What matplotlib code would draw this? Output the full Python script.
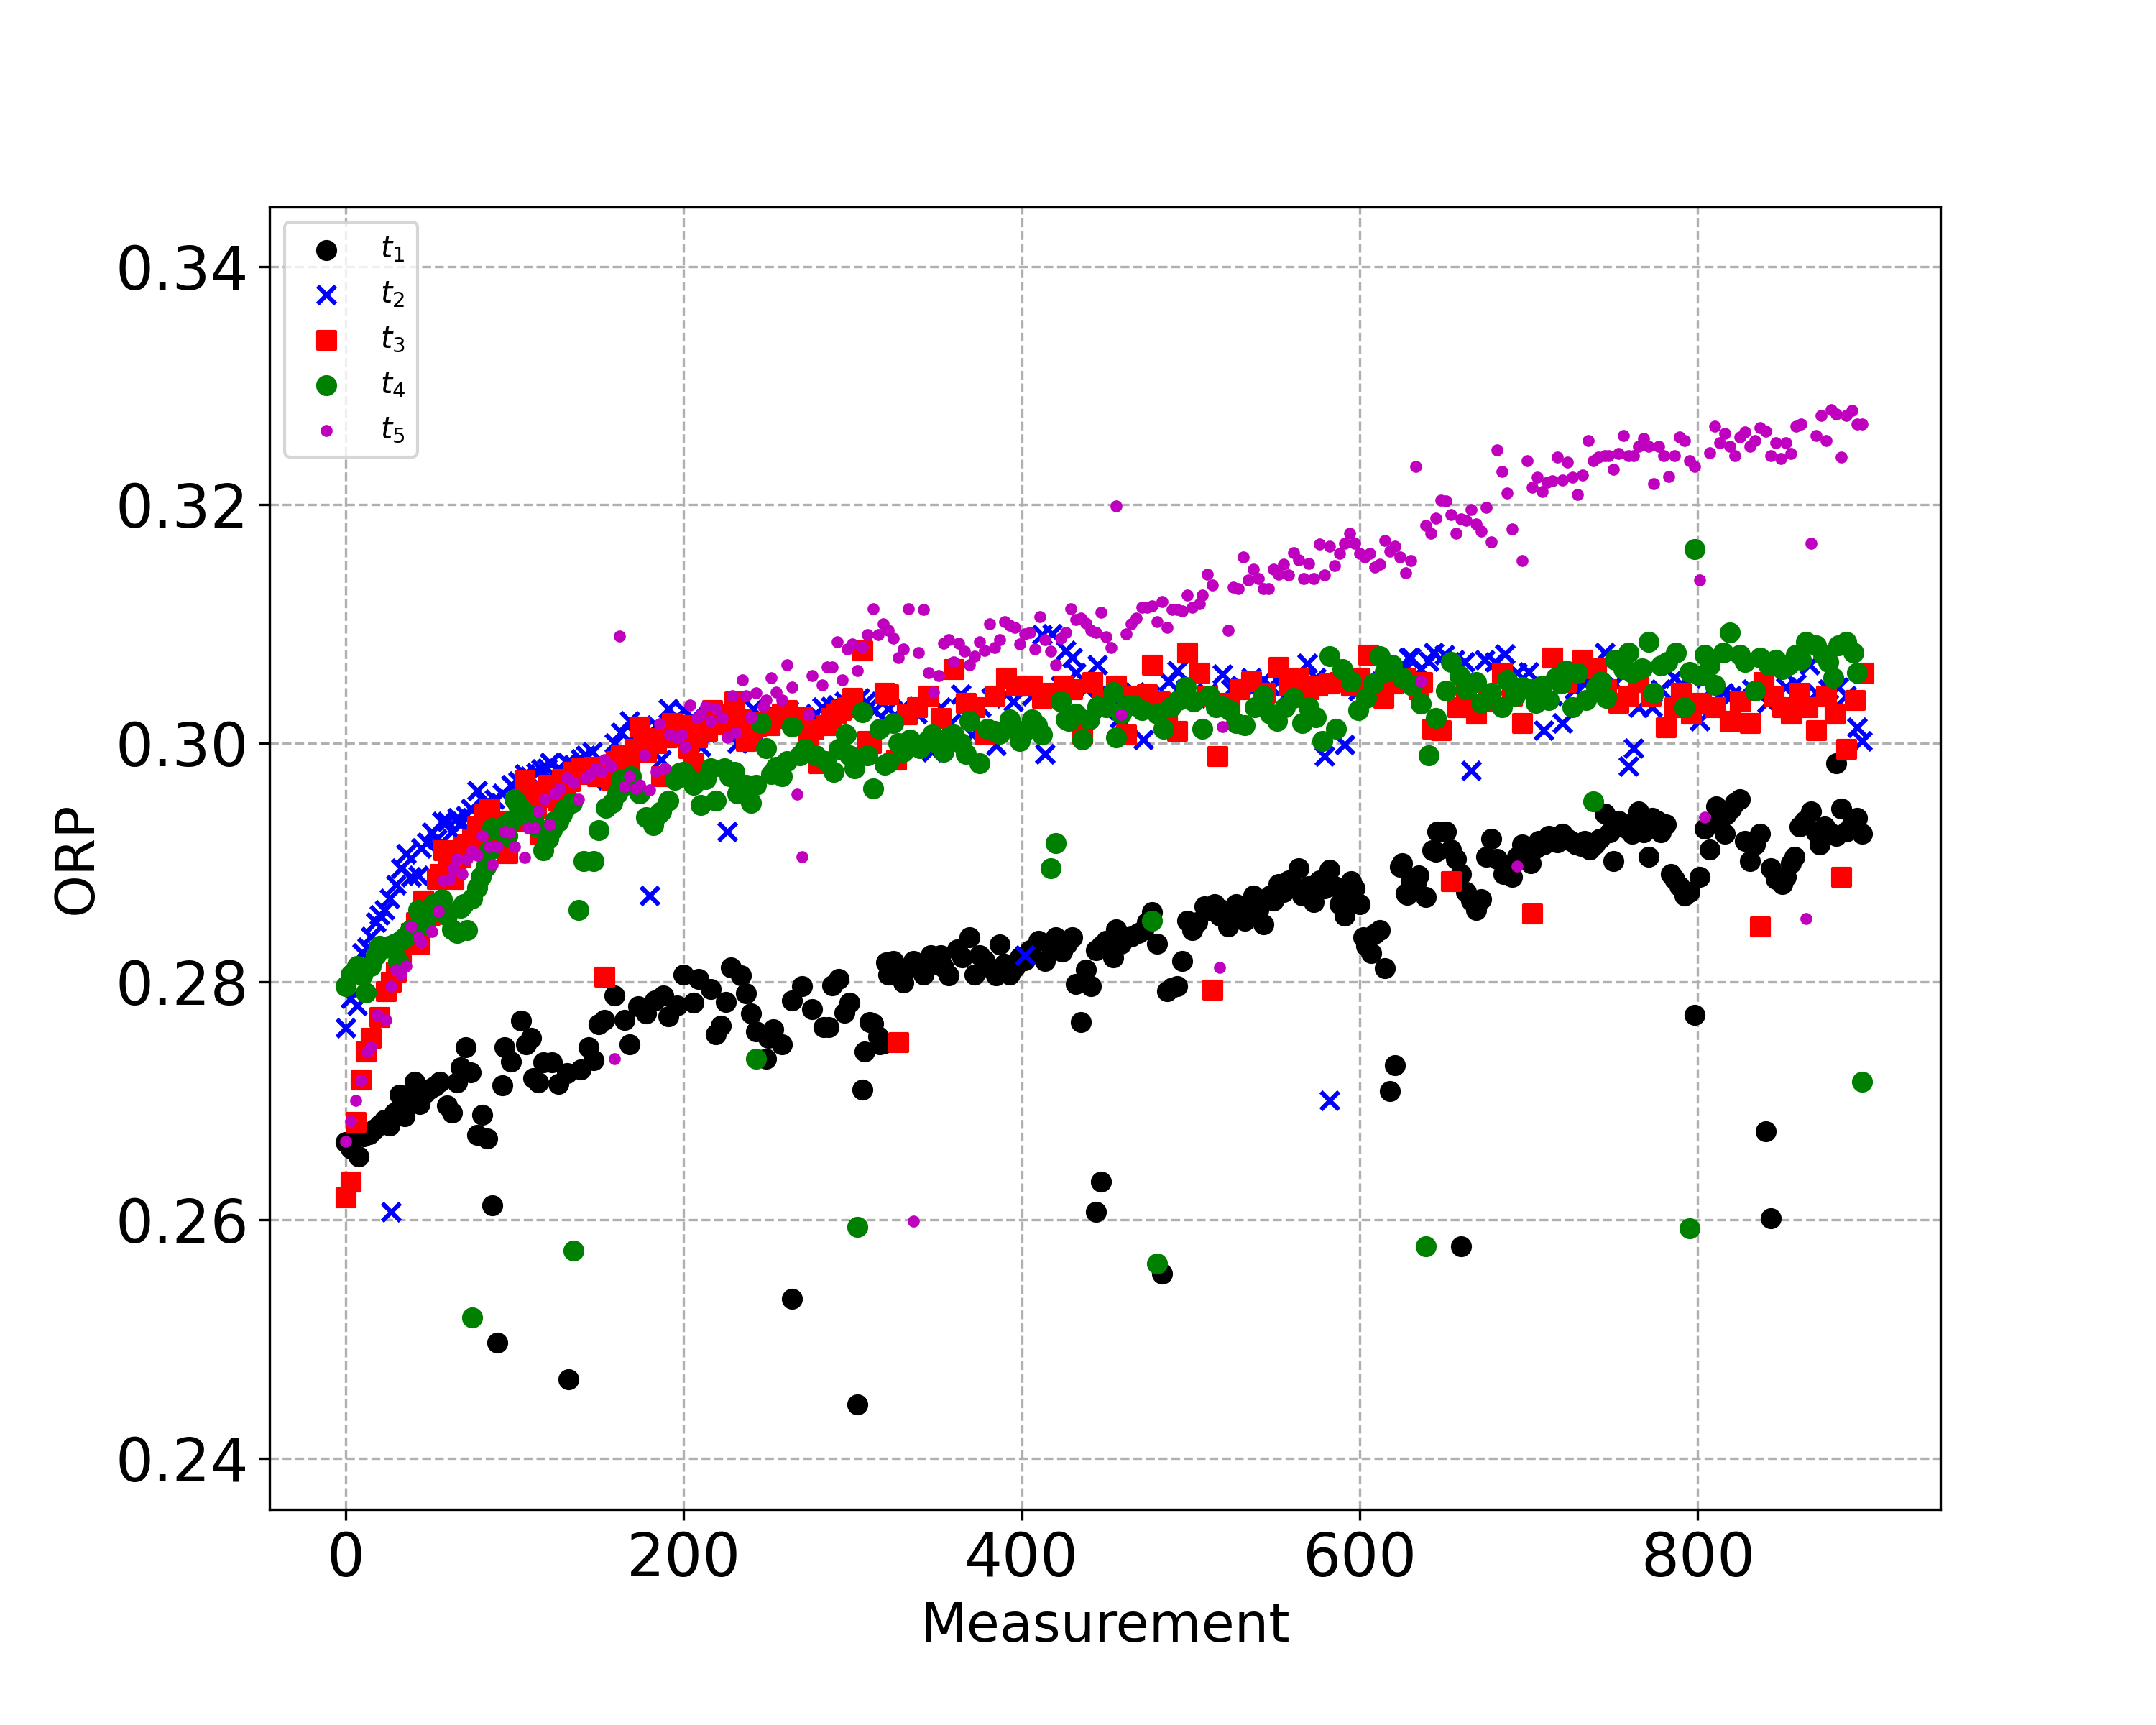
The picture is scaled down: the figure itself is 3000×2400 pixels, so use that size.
import numpy as np
import matplotlib
matplotlib.use("Agg")
import matplotlib.pyplot as plt

t1_points = [
    (0, 0.2665), (3, 0.2660), (5, 0.2668), (8, 0.2653), (11, 0.2670), (14, 0.2672), (17, 0.2676),
    (20, 0.2680), (23, 0.2684), (26, 0.2679), (29, 0.2690), (32, 0.2705), (35, 0.2687), (38, 0.2700),
    (41, 0.2716), (44, 0.2697), (47, 0.2706), (50, 0.2710), (53, 0.2712), (56, 0.2716), (60, 0.2696),
    (63, 0.2690), (66, 0.2715), (68, 0.2728), (71, 0.2745), (74, 0.2724), (78, 0.2671), (81, 0.2688),
    (84, 0.2668), (93, 0.2713), (94, 0.2745), (98, 0.2733), (104, 0.2767), (107, 0.2747), (110, 0.2753),
    (111, 0.2719), (114, 0.2715), (117, 0.2732), (122, 0.2732), (126, 0.2714), (131, 0.2723),
    (139, 0.2726), (144, 0.2745), (147, 0.2734), (150, 0.2764), (153, 0.2768), (159, 0.2788),
    (165, 0.2768), (168, 0.2747), (173, 0.2779), (178, 0.2773), (183, 0.2784), (188, 0.2788),
    (191, 0.2771), (196, 0.2780), (200, 0.2806), (206, 0.2782), (209, 0.2802), (216, 0.2794),
    (219, 0.2756), (222, 0.2763), (225, 0.2783), (228, 0.2812), (234, 0.2805), (237, 0.2790),
    (240, 0.2773), (243, 0.2758), (249, 0.2735), (250, 0.2753), (253, 0.2760), (258, 0.2747),
    (264, 0.2784), (270, 0.2796), (276, 0.2777), (283, 0.2762), (286, 0.2762), (288, 0.2797),
    (292, 0.2802), (295, 0.2774), (298, 0.2782), (306, 0.2709), (307, 0.2741), (310, 0.2766),
    (312, 0.2765), (315, 0.2754), (316, 0.2747), (318, 0.2748), (320, 0.2816), (321, 0.2806),
    (324, 0.2817), (327, 0.2810), (330, 0.2799), (333, 0.2812), (336, 0.2817), (339, 0.2814),
    (342, 0.2806), (346, 0.2822), (348, 0.2815), (352, 0.2822), (354, 0.2812), (357, 0.2805),
    (362, 0.2827), (365, 0.2820), (369, 0.2837), (372, 0.2806), (375, 0.2822), (378, 0.2818),
    (381, 0.2812), (385, 0.2805), (387, 0.2831), (390, 0.2815), (393, 0.2806), (396, 0.2812),
    (399, 0.2820), (402, 0.2818), (405, 0.2826), (410, 0.2834), (414, 0.2817), (417, 0.2830),
    (420, 0.2837), (424, 0.2825), (427, 0.2832), (430, 0.2837), (432, 0.2798), (435, 0.2766),
    (438, 0.2810), (441, 0.2796), (444, 0.2826), (447, 0.2830), (450, 0.2834), (454, 0.2820),
    (456, 0.2844), (459, 0.2832), (462, 0.2837), (465, 0.2838), (469, 0.2841), (472, 0.2843),
    (474, 0.2850), (477, 0.2858), (480, 0.2832), (486, 0.2792), (489, 0.2795), (492, 0.2796),
    (495, 0.2817), (498, 0.2851), (501, 0.2843), (504, 0.2850), (508, 0.2863), (511, 0.2860),
    (514, 0.2865), (517, 0.2855), (519, 0.2860), (522, 0.2846), (525, 0.2858), (527, 0.2865),
    (529, 0.2860), (532, 0.2851), (535, 0.2862), (537, 0.2872), (540, 0.2860), (543, 0.2848),
    (547, 0.2872), (549, 0.2868), (552, 0.2882), (555, 0.2875), (558, 0.2885), (561, 0.2880),
    (564, 0.2895), (566, 0.2872), (570, 0.2880), (573, 0.2867), (576, 0.2885), (579, 0.2878),
    (582, 0.2894), (585, 0.2880), (588, 0.2865), (591, 0.2855), (593, 0.2870), (595, 0.2884),
    (597, 0.2878), (600, 0.2865), (602, 0.2837), (604, 0.2830), (607, 0.2824), (609, 0.2840),
    (612, 0.2843), (615, 0.2811), (624, 0.2896), (625, 0.2899), (627, 0.2874), (628, 0.2873),
    (630, 0.2885), (633, 0.2882), (635, 0.2889), (639, 0.2871), (643, 0.2910), (645, 0.2909),
    (646, 0.2926), (651, 0.2926), (654, 0.2911), (657, 0.2903), (660, 0.2890), (663, 0.2875),
    (666, 0.2868), (669, 0.2860), (672, 0.2869), (675, 0.2905), (678, 0.2920), (681, 0.2903),
    (685, 0.2890), (688, 0.2895), (690, 0.2888), (693, 0.2905), (696, 0.2915), (699, 0.2910),
    (701, 0.2899), (704, 0.2912), (706, 0.2918), (709, 0.2915), (712, 0.2922), (715, 0.2920),
    (717, 0.2917), (720, 0.2924), (723, 0.2920), (725, 0.2918), (728, 0.2915), (731, 0.2914),
    (733, 0.2918), (736, 0.2911), (739, 0.2915), (742, 0.2920), (745, 0.2941), (748, 0.2925),
    (750, 0.2901), (753, 0.2935), (755, 0.2930), (758, 0.2928), (761, 0.2924), (763, 0.2935),
    (765, 0.2943), (768, 0.2925), (771, 0.2905), (773, 0.2937), (776, 0.2935), (778, 0.2925),
    (781, 0.2932), (784, 0.2890), (786, 0.2886), (789, 0.2880), (792, 0.2872), (795, 0.2875),
    (801, 0.2888), (804, 0.2928), (807, 0.2911), (811, 0.2947), (813, 0.2935), (816, 0.2924),
    (817, 0.2940), (820, 0.2945), (822, 0.2950), (825, 0.2953), (828, 0.2918), (831, 0.2901),
    (834, 0.2915), (837, 0.2924), (843, 0.2895), (846, 0.2886), (850, 0.2882), (852, 0.2888),
    (855, 0.2899), (857, 0.2905), (860, 0.2930), (863, 0.2935), (867, 0.2943), (870, 0.2925),
    (872, 0.2915), (875, 0.2930), (878, 0.2925), (882, 0.2922), (882, 0.2983), (885, 0.2945),
    (888, 0.2926), (891, 0.2932), (894, 0.2937), (897, 0.2924),
    # stray readings
    (87, 0.2612), (90, 0.2497), (132, 0.2466), (264, 0.2534), (303, 0.2445), (444, 0.2607),
    (447, 0.2632), (483, 0.2555), (618, 0.2708), (621, 0.2730), (660, 0.2578), (798, 0.2772),
    (840, 0.2674), (843, 0.2601),
]

t2_points = [
    (0, 0.2761), (3, 0.2786), (7, 0.2780), (10, 0.2824), (13, 0.2829), (15, 0.2838), (18, 0.2850),
    (20, 0.2856), (23, 0.2860), (26, 0.2870), (30, 0.2881), (33, 0.2895), (36, 0.2907), (39, 0.2888),
    (43, 0.2889), (45, 0.2912), (48, 0.2917), (51, 0.2925), (54, 0.2920), (57, 0.2934), (60, 0.2934),
    (63, 0.2926), (66, 0.2937), (68, 0.2932), (71, 0.2939), (74, 0.2945), (78, 0.2960), (83, 0.2950),
    (88, 0.2953), (93, 0.2958), (98, 0.2965), (102, 0.2968), (106, 0.2974), (109, 0.2972),
    (113, 0.2975), (116, 0.2978), (119, 0.2979), (121, 0.2984), (126, 0.2979), (131, 0.2984),
    (135, 0.2982), (139, 0.2987), (142, 0.2990), (146, 0.2993), (150, 0.2979), (155, 0.2969),
    (159, 0.3000), (163, 0.3009), (168, 0.3019), (172, 0.3007), (176, 0.3012), (184, 0.3015),
    (187, 0.2986), (191, 0.3029), (195, 0.3020), (200, 0.3028), (205, 0.3022), (210, 0.2997),
    (213, 0.3009), (218, 0.3018), (222, 0.3025), (232, 0.3000), (236, 0.3020), (241, 0.3029),
    (243, 0.3007), (246, 0.3022), (250, 0.3024), (254, 0.3025), (258, 0.3019), (262, 0.3028),
    (266, 0.3020), (270, 0.3022), (274, 0.3014), (278, 0.3025), (282, 0.3030), (287, 0.3031),
    (291, 0.3032), (295, 0.3035), (299, 0.3030), (304, 0.3038), (308, 0.3035), (310, 0.3031),
    (313, 0.3028), (321, 0.3029), (330, 0.3031), (338, 0.3025), (347, 0.2993), (352, 0.3030),
    (358, 0.3017), (364, 0.3041), (371, 0.3007), (376, 0.3030), (382, 0.3038), (385, 0.2998),
    (391, 0.3041), (395, 0.3035), (399, 0.3014), (406, 0.3040), (412, 0.3091), (414, 0.2991),
    (418, 0.3092), (423, 0.3048), (426, 0.3078), (430, 0.3072), (432, 0.3059), (438, 0.3045),
    (445, 0.3066), (449, 0.3028), (453, 0.3040), (458, 0.3021), (462, 0.3035), (467, 0.3043),
    (472, 0.3003), (476, 0.3040), (480, 0.3031), (487, 0.3052), (492, 0.3061), (497, 0.3045),
    (503, 0.3038), (510, 0.3042), (519, 0.3058), (524, 0.3045), (530, 0.3048), (536, 0.3055),
    (541, 0.3050), (547, 0.3048), (552, 0.3052), (558, 0.3043), (563, 0.3048), (569, 0.3067),
    (574, 0.3055), (579, 0.2989), (586, 0.3050), (591, 0.2999), (599, 0.3044), (604, 0.3052),
    (610, 0.3048), (614, 0.3050), (619, 0.3055), (625, 0.3060), (629, 0.3072), (630, 0.3072),
    (636, 0.3062), (641, 0.3069), (644, 0.3076), (650, 0.3074), (656, 0.3070), (662, 0.3068),
    (666, 0.2977), (674, 0.3070), (680, 0.3068), (686, 0.3075), (693, 0.3059), (700, 0.3060),
    (709, 0.3011), (714, 0.3040), (720, 0.3017), (727, 0.3045), (733, 0.3050), (739, 0.3060),
    (745, 0.3076), (751, 0.3050), (759, 0.2981), (762, 0.2996), (765, 0.3030), (773, 0.3030),
    (778, 0.3045), (786, 0.3055), (790, 0.3050), (796, 0.3055), (801, 0.3019), (808, 0.3045),
    (815, 0.3042), (820, 0.3040), (825, 0.3040), (832, 0.3045), (841, 0.3034), (846, 0.3040),
    (852, 0.3047), (858, 0.3050), (866, 0.3066), (870, 0.3042), (877, 0.3045), (883, 0.3047),
    (888, 0.3040), (894, 0.3013), (897, 0.3002),
    # stray readings
    (27, 0.2607), (180, 0.2872), (226, 0.2926), (402, 0.2822), (582, 0.2700),
]

t3_points = [
    (0, 0.2619), (3, 0.2632), (6, 0.2682), (9, 0.2718), (12, 0.2741), (15, 0.2753), (20, 0.2770),
    (24, 0.2792), (27, 0.2800), (30, 0.2808), (33, 0.2822), (36, 0.2832), (39, 0.2841), (42, 0.2850),
    (44, 0.2832), (46, 0.2868), (50, 0.2856), (54, 0.2886), (56, 0.2890), (58, 0.2910), (61, 0.2895),
    (62, 0.2905), (64, 0.2886), (65, 0.2900), (68, 0.2905), (70, 0.2913), (72, 0.2915), (75, 0.2920),
    (78, 0.2930), (80, 0.2925), (82, 0.2940), (85, 0.2945), (87, 0.2927), (91, 0.2917), (93, 0.2935),
    (96, 0.2908), (100, 0.2935), (103, 0.2950), (106, 0.2969), (108, 0.2960), (111, 0.2952),
    (113, 0.2945), (115, 0.2924), (118, 0.2955), (120, 0.2965), (122, 0.2958), (126, 0.2952),
    (128, 0.2970), (130, 0.2965), (133, 0.2968), (135, 0.2976), (139, 0.2979), (142, 0.2975),
    (145, 0.2974), (147, 0.2980), (149, 0.2972), (152, 0.2978), (157, 0.2969), (160, 0.2985),
    (163, 0.2990), (166, 0.2985), (168, 0.2979), (171, 0.2995), (174, 0.3014), (176, 0.2998),
    (178, 0.2993), (182, 0.3004), (184, 0.3000), (187, 0.2972), (190, 0.3005), (193, 0.3017),
    (195, 0.3010), (198, 0.3007), (200, 0.3015), (203, 0.2996), (206, 0.2983), (208, 0.3005),
    (211, 0.3012), (214, 0.3010), (217, 0.3028), (219, 0.3020), (222, 0.3016), (226, 0.3025),
    (230, 0.3035), (234, 0.3020), (237, 0.3002), (240, 0.3010), (243, 0.3014), (248, 0.3018),
    (251, 0.3015), (254, 0.3021), (258, 0.3025), (261, 0.3028), (264, 0.3020), (267, 0.3017),
    (270, 0.3022), (274, 0.3007), (277, 0.3012), (280, 0.2983), (284, 0.3015), (287, 0.3021),
    (290, 0.3025), (293, 0.3028), (297, 0.3030), (300, 0.3038), (306, 0.3078), (309, 0.3002),
    (311, 0.3000), (319, 0.3042), (321, 0.3041), (326, 0.2986), (332, 0.3024), (338, 0.3030),
    (345, 0.3040), (352, 0.3021), (360, 0.3062), (367, 0.3034), (372, 0.3030), (378, 0.3008),
    (384, 0.3040), (391, 0.3055), (397, 0.3048), (406, 0.3048), (412, 0.3038), (418, 0.3042),
    (425, 0.3048), (430, 0.3045), (436, 0.3008), (442, 0.3051), (448, 0.3035), (456, 0.3048),
    (462, 0.3007), (468, 0.3040), (474, 0.3041), (477, 0.3066), (482, 0.3035), (486, 0.3017),
    (492, 0.3010), (498, 0.3076), (505, 0.3059), (510, 0.3040), (516, 0.2989), (523, 0.3034),
    (529, 0.3045), (536, 0.3052), (544, 0.3042), (552, 0.3064), (558, 0.3048), (564, 0.3055),
    (570, 0.3045), (575, 0.3048), (582, 0.3050), (588, 0.3051), (595, 0.3048), (600, 0.3055),
    (605, 0.3074), (614, 0.3038), (620, 0.3050), (627, 0.3055), (635, 0.3045), (637, 0.3051),
    (643, 0.3012), (648, 0.3011), (658, 0.3030), (663, 0.3040), (669, 0.3025), (676, 0.3035),
    (684, 0.3059), (690, 0.3040), (696, 0.3017), (706, 0.3045), (714, 0.3072), (722, 0.3051),
    (727, 0.3060), (732, 0.3070), (740, 0.3063), (746, 0.3045), (753, 0.3034), (759, 0.3040),
    (765, 0.3051), (772, 0.3040), (781, 0.3013), (786, 0.3030), (790, 0.3042), (796, 0.3025),
    (802, 0.3034), (810, 0.3030), (819, 0.3019), (825, 0.3035), (831, 0.3017), (839, 0.3051),
    (845, 0.3040), (850, 0.3030), (855, 0.3025), (860, 0.3042), (865, 0.3030), (870, 0.3011),
    (876, 0.3040), (881, 0.3025), (893, 0.3036), (898, 0.3059),
    # stray readings
    (153, 0.2804), (327, 0.2749), (513, 0.2793), (654, 0.2884), (702, 0.2857), (837, 0.2846),
    (885, 0.2888), (888, 0.2995),
]

t4_points = [
    (0, 0.2796), (3, 0.2806), (5, 0.2808), (7, 0.2813), (10, 0.2805), (12, 0.2791), (15, 0.2813),
    (18, 0.2822), (20, 0.2830), (23, 0.2828), (26, 0.2830), (29, 0.2832), (31, 0.2817), (33, 0.2835),
    (35, 0.2837), (37, 0.2840), (39, 0.2844), (43, 0.2860), (45, 0.2852), (47, 0.2848), (50, 0.2858),
    (52, 0.2865), (55, 0.2862), (57, 0.2869), (60, 0.2855), (63, 0.2844), (66, 0.2841), (68, 0.2862),
    (70, 0.2865), (72, 0.2843), (75, 0.2870), (78, 0.2879), (80, 0.2888), (83, 0.2896), (85, 0.2910),
    (87, 0.2929), (91, 0.2927), (93, 0.2930), (96, 0.2922), (98, 0.2935), (100, 0.2953),
    (102, 0.2948), (104, 0.2945), (106, 0.2940), (109, 0.2939), (111, 0.2935), (113, 0.2930),
    (117, 0.2910), (120, 0.2920), (122, 0.2927), (124, 0.2935), (126, 0.2934), (128, 0.2940),
    (130, 0.2945), (134, 0.2950), (138, 0.2860), (141, 0.2901), (147, 0.2901), (150, 0.2927),
    (154, 0.2946), (158, 0.2950), (161, 0.2958), (163, 0.2969), (166, 0.2965),
    (169, 0.2972), (174, 0.2958), (178, 0.2938), (182, 0.2931), (185, 0.2940), (187, 0.2943),
    (191, 0.2952), (195, 0.2969), (198, 0.2975), (200, 0.2976), (202, 0.2972), (206, 0.2965),
    (210, 0.2948), (213, 0.2970), (216, 0.2979), (219, 0.2952), (224, 0.2979), (227, 0.2972),
    (230, 0.2976), (232, 0.2958), (237, 0.2965), (240, 0.2950), (243, 0.2965), (246, 0.3017),
    (249, 0.2996), (252, 0.2974), (255, 0.2980), (258, 0.2972), (261, 0.2985), (264, 0.3014),
    (269, 0.2990), (272, 0.2995), (278, 0.2990), (284, 0.2985), (289, 0.2976), (292, 0.2995),
    (296, 0.3007), (298, 0.2990), (301, 0.2979), (306, 0.3026), (309, 0.2990), (312, 0.2962),
    (316, 0.3012), (319, 0.2982), (321, 0.2984), (324, 0.3017), (327, 0.3000), (330, 0.2993),
    (334, 0.3003), (340, 0.2996), (344, 0.3002), (347, 0.3007), (350, 0.3000), (354, 0.2993),
    (357, 0.3005), (360, 0.3007), (364, 0.3000), (367, 0.2991), (369, 0.3019), (375, 0.2983),
    (380, 0.3012), (384, 0.3010), (387, 0.3008), (393, 0.3020), (396, 0.3012), (399, 0.3002),
    (402, 0.3010), (406, 0.3020), (409, 0.3015), (412, 0.3007), (423, 0.3035), (426, 0.3020),
    (428, 0.3019), (432, 0.3025), (436, 0.3003), (440, 0.3020), (445, 0.3031), (450, 0.3030),
    (454, 0.3043), (456, 0.3005), (459, 0.3025), (462, 0.3031), (466, 0.3032), (471, 0.3028),
    (480, 0.3025), (484, 0.3012), (488, 0.3030), (493, 0.3036), (497, 0.3047), (502, 0.3035),
    (507, 0.3012), (511, 0.3040), (515, 0.3030), (519, 0.3031), (523, 0.3028), (527, 0.3017),
    (532, 0.3015), (538, 0.3030), (543, 0.3040), (547, 0.3025), (551, 0.3019), (556, 0.3030),
    (561, 0.3038), (566, 0.3017), (570, 0.3030), (574, 0.3022), (578, 0.3002), (582, 0.3073),
    (586, 0.3012), (590, 0.3062), (595, 0.3052), (599, 0.3028), (604, 0.3038), (608, 0.3050),
    (612, 0.3073), (615, 0.3060), (619, 0.3066), (625, 0.3055), (631, 0.3048), (636, 0.3033),
    (645, 0.3021), (651, 0.3044), (654, 0.3068), (659, 0.3057), (663, 0.3045), (669, 0.3051),
    (672, 0.3034), (678, 0.3042), (684, 0.3030), (687, 0.3053), (692, 0.3040), (696, 0.3047),
    (700, 0.3045), (704, 0.3034), (708, 0.3048), (712, 0.3036), (716, 0.3055), (719, 0.3050),
    (722, 0.3061), (726, 0.3030), (729, 0.3059), (734, 0.3036), (740, 0.3047), (743, 0.3052),
    (746, 0.3038), (751, 0.3070), (756, 0.3062), (759, 0.3076), (761, 0.3059), (767, 0.3063),
    (771, 0.3085), (774, 0.3042), (778, 0.3065), (782, 0.3068), (787, 0.3076), (792, 0.3030),
    (795, 0.3060), (801, 0.3057), (804, 0.3074), (807, 0.3065), (810, 0.3049), (815, 0.3076),
    (819, 0.3093), (825, 0.3074), (828, 0.3068), (834, 0.3044), (837, 0.3072), (842, 0.3065),
    (846, 0.3070), (850, 0.3062), (854, 0.3066), (858, 0.3074), (861, 0.3070), (864, 0.3085),
    (870, 0.3082), (874, 0.3074), (877, 0.3068), (880, 0.3055), (883, 0.3082), (888, 0.3085),
    (892, 0.3076), (894, 0.3059),
    # stray readings
    (75, 0.2518), (135, 0.2574), (243, 0.2735), (303, 0.2594), (417, 0.2895), (420, 0.2916),
    (477, 0.2851), (480, 0.2563), (639, 0.2578), (641, 0.2990), (738, 0.2951), (795, 0.2593),
    (798, 0.3163), (897, 0.2716),
]

t5_points = [
    (0, 0.2666), (3, 0.2683), (6, 0.2700), (9, 0.2717), (13, 0.2741), (15, 0.2745), (19, 0.2772),
    (24, 0.2768), (27, 0.2796), (30, 0.2810), (33, 0.2806), (36, 0.2813), (39, 0.2846), (43, 0.2837),
    (45, 0.2833), (51, 0.2842), (55, 0.2859), (58, 0.2885), (62, 0.2886), (64, 0.2895), (66, 0.2903),
    (69, 0.2890), (72, 0.2903), (75, 0.2910), (78, 0.2906), (81, 0.2922), (85, 0.2913), (87, 0.2898),
    (90, 0.2913), (94, 0.2926), (97, 0.2925), (100, 0.2913), (106, 0.2904), (108, 0.2929),
    (112, 0.2929), (114, 0.2943), (118, 0.2953), (121, 0.2932), (124, 0.2958), (127, 0.2962),
    (131, 0.2971), (135, 0.2967), (138, 0.2953), (142, 0.2971), (145, 0.2974), (148, 0.2979),
    (151, 0.2976), (153, 0.2986), (157, 0.2981), (159, 0.2735), (162, 0.3090), (165, 0.2964),
    (168, 0.2972), (172, 0.2962), (174, 0.2965), (177, 0.2990), (180, 0.2961), (184, 0.2976),
    (186, 0.3016), (189, 0.2979), (192, 0.3007), (196, 0.3005), (199, 0.3007), (201, 0.2997),
    (204, 0.3032), (208, 0.3021), (210, 0.3024), (213, 0.3031), (216, 0.3019), (219, 0.3029),
    (223, 0.3021), (226, 0.3005), (229, 0.3040), (231, 0.3009), (235, 0.3053), (237, 0.3040),
    (240, 0.3022), (243, 0.3042), (247, 0.3031), (249, 0.3036), (252, 0.3055), (255, 0.3043),
    (258, 0.3036), (261, 0.3066), (264, 0.3047), (267, 0.2957), (270, 0.2905), (274, 0.3024),
    (276, 0.3057), (282, 0.3049), (285, 0.3064), (288, 0.3064), (291, 0.3085), (294, 0.3053),
    (297, 0.3079), (300, 0.3083), (303, 0.3061), (306, 0.3081), (309, 0.3091), (312, 0.3113),
    (315, 0.3091), (318, 0.3100), (321, 0.3095), (324, 0.3088), (327, 0.3072), (330, 0.3079),
    (333, 0.3113), (336, 0.2599), (339, 0.3076), (342, 0.3112), (345, 0.3059), (348, 0.3043),
    (351, 0.3057), (354, 0.3084), (357, 0.3087), (360, 0.3068), (363, 0.3084), (366, 0.3077),
    (369, 0.3066), (372, 0.3073), (375, 0.3085), (378, 0.3078), (381, 0.3100), (384, 0.3080),
    (387, 0.3087), (390, 0.3102), (393, 0.3099), (396, 0.3097), (399, 0.3083), (402, 0.3092),
    (405, 0.3093), (408, 0.3079), (411, 0.3106), (414, 0.3087), (417, 0.3077), (420, 0.3066),
    (423, 0.3088), (426, 0.3093), (429, 0.3113), (432, 0.3104), (435, 0.3105), (438, 0.3101),
    (441, 0.3095), (444, 0.3093), (447, 0.3110), (450, 0.3089), (453, 0.3080), (456, 0.3199),
    (459, 0.3024), (462, 0.3092), (465, 0.3100), (468, 0.3105), (471, 0.3114), (474, 0.3114),
    (477, 0.3115), (480, 0.3102), (483, 0.3119), (486, 0.3097), (489, 0.3112), (492, 0.3112),
    (495, 0.3111), (498, 0.3124), (501, 0.3114), (505, 0.3117), (507, 0.3124), (510, 0.3142),
    (513, 0.3133), (517, 0.2812), (519, 0.3014), (522, 0.3095), (525, 0.3131), (528, 0.3130),
    (531, 0.3156), (534, 0.3137), (537, 0.3146), (540, 0.3138), (543, 0.3130), (546, 0.3130),
    (549, 0.3146), (552, 0.3142), (555, 0.3150), (558, 0.3141), (561, 0.3160), (564, 0.3154),
    (567, 0.3138), (570, 0.3151), (573, 0.3138), (576, 0.3167), (579, 0.3141), (582, 0.3165),
    (585, 0.3149), (588, 0.3159), (591, 0.3168), (594, 0.3176), (597, 0.3168), (600, 0.3159),
    (603, 0.3156), (606, 0.3159), (609, 0.3148), (612, 0.3150), (615, 0.3170), (618, 0.3161),
    (621, 0.3165), (624, 0.3156), (627, 0.3143), (630, 0.3153), (633, 0.3232), (636, 0.3052),
    (639, 0.3183), (642, 0.3176), (645, 0.3189), (648, 0.3204), (651, 0.3203), (654, 0.3192),
    (657, 0.3176), (660, 0.3188), (663, 0.3187), (666, 0.3196), (669, 0.3184), (672, 0.3178),
    (675, 0.3198), (678, 0.3169), (681, 0.3246), (684, 0.3228), (687, 0.3210), (690, 0.3180),
    (693, 0.2897), (696, 0.3153), (699, 0.3237), (702, 0.3215), (705, 0.3223), (708, 0.3211),
    (711, 0.3219), (714, 0.3220), (717, 0.3240), (720, 0.3221), (723, 0.3236), (726, 0.3223),
    (729, 0.3209), (732, 0.3225), (735, 0.3254), (738, 0.3237), (741, 0.3240), (745, 0.3241),
    (747, 0.3241), (750, 0.3230), (753, 0.3243), (756, 0.3258), (759, 0.3241), (762, 0.3241),
    (765, 0.3249), (768, 0.3256), (771, 0.3249), (774, 0.3218), (777, 0.3249), (780, 0.3241),
    (783, 0.3224), (786, 0.3241), (789, 0.3257), (792, 0.3254), (795, 0.3237), (798, 0.3232),
    (801, 0.3137), (804, 0.2938), (807, 0.3244), (810, 0.3266), (813, 0.3252), (816, 0.3260),
    (819, 0.3249), (822, 0.3241), (825, 0.3257), (828, 0.3261), (831, 0.3249), (834, 0.3254),
    (837, 0.3265), (840, 0.3262), (843, 0.3241), (846, 0.3252), (849, 0.3239), (852, 0.3252),
    (855, 0.3243), (858, 0.3266), (861, 0.3268), (864, 0.2853), (867, 0.3168), (870, 0.3258),
    (873, 0.3275), (876, 0.3254), (879, 0.3280), (882, 0.3276), (885, 0.3240), (888, 0.3275),
    (891, 0.3279), (894, 0.3268), (897, 0.3268),
]

series = [
    (t1_points, "k", "o", r"$t_1$"),
    (t2_points, "b", "x", r"$t_2$"),
    (t3_points, "r", "s", r"$t_3$"),
    (t4_points, "g", "o", r"$t_4$"),
    (t5_points, "m", ".", r"$t_5$"),
]

fig, ax = plt.subplots(figsize=(10, 8), dpi=300)
fig.subplots_adjust(left=0.125, right=0.9, top=0.88, bottom=0.125)

for pts, color, marker, label in series:
    arr = np.array(pts)
    ax.scatter(arr[:, 0], arr[:, 1], c=color, marker=marker, label=label)

ax.set_xlim(-44.9, 943.5)
ax.set_ylim(0.2357, 0.3450)
ax.set_xticks([0, 200, 400, 600, 800])
ax.set_yticks([0.24, 0.26, 0.28, 0.30, 0.32, 0.34])
ax.tick_params(labelsize=20)
ax.set_xlabel("Measurement", fontsize=18)
ax.set_ylabel("ORP", fontsize=18)
ax.grid(True, linestyle="--")
ax.set_axisbelow(True)
ax.legend(loc="upper left")

fig.savefig("out.png", dpi=300)
